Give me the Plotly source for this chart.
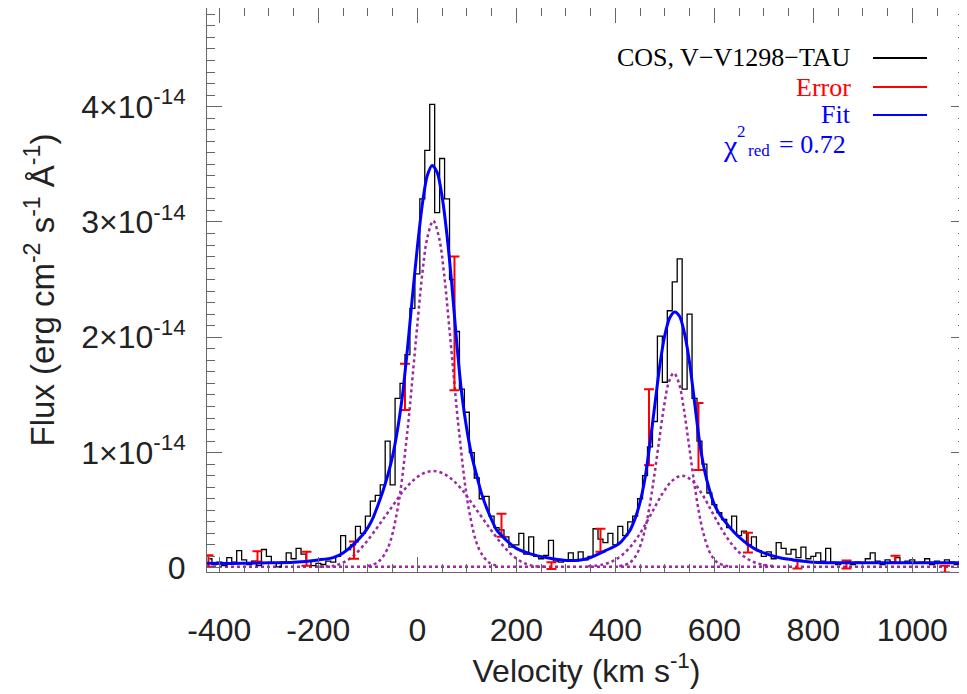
import plotly.graph_objects as go

# ---------------- data (flux in units of 1e-14 erg cm^-2 s^-1 A^-1) ----------------
SPEC_V = [-420, -410, -400, -390, -380, -370, -360, -350, -340, -330, -320, -310, -300, -290, -280,
          -270, -260, -250, -240, -230, -220, -210, -200, -190, -180, -170, -160, -150, -140, -130,
          -120, -110, -100, -90, -80, -70, -60, -50, -40, -30, -20, -10, 0, 10, 20, 30, 40, 50, 60,
          70, 80, 90, 100, 110, 120, 130, 140, 150, 160, 170, 180, 190, 200, 210, 220, 230, 240, 250,
          260, 270, 280, 290, 300, 310, 320, 330, 340, 350, 360, 370, 380, 390, 400, 410, 420, 430,
          440, 450, 460, 470, 480, 490, 500, 510, 520, 530, 540, 550, 560, 570, 580, 590, 600, 610,
          620, 630, 640, 650, 660, 670, 680, 690, 700, 710, 720, 730, 740, 750, 760, 770, 780, 790,
          800, 810, 820, 830, 840, 850, 860, 870, 880, 890, 900, 910, 920, 930, 940, 950, 960, 970,
          980, 990, 1000, 1010, 1020, 1030, 1040, 1050, 1060, 1070, 1080, 1090, 1100, 1110]
SPEC_F = [0.08, 0.03, 0.05, 0.02, 0.09, 0.05, 0.15, 0.07, 0.03, 0.06, 0.02, 0.16, 0.10, 0.04, 0.01,
          0.05, 0.13, 0.08, 0.17, 0.12, 0.06, 0.02, 0.04, 0.03, 0.06, 0.05, 0.10, 0.28, 0.16, 0.20,
          0.36, 0.30, 0.45, 0.58, 0.63, 0.72, 1.10, 0.72, 1.47, 1.60, 1.85, 2.25, 2.55, 3.20, 3.62,
          4.02, 3.08, 3.55, 3.20, 2.50, 2.05, 1.55, 1.35, 1.00, 0.78, 0.60, 0.62, 0.45, 0.35, 0.33,
          0.27, 0.18, 0.20, 0.30, 0.12, 0.27, 0.10, 0.08, 0.11, 0.24, 0.06, 0.05, 0.07, 0.13, 0.06,
          0.14, 0.07, 0.10, 0.34, 0.25, 0.22, 0.30, 0.20, 0.36, 0.28, 0.40, 0.45, 0.60, 0.80, 1.05,
          1.27, 2.01, 1.61, 2.23, 2.48, 2.68, 1.55, 2.20, 1.47, 1.10, 0.90, 0.65, 0.55, 0.48, 0.42,
          0.35, 0.45, 0.28, 0.32, 0.20, 0.27, 0.15, 0.10, 0.14, 0.08, 0.22, 0.17, 0.12, 0.16, 0.09,
          0.18, 0.08, 0.10, 0.13, 0.06, 0.17, 0.05, 0.03, 0.04, 0.06, 0.03, 0.05, 0.04, 0.08, 0.13,
          0.06, 0.03, 0.07, 0.05, 0.09, 0.04, 0.06, 0.07, 0.04, 0.05, 0.08, 0.03, 0.06, 0.04, 0.07,
          0.05, 0.03, 0.06, 0.04]

FIT_V = [-425, -350, -300, -250, -200, -170, -150, -130, -110, -100, -90, -80, -70, -60, -50,
         -40, -30, -20, -10, 0, 10, 20, 30, 40, 50, 60, 70, 80, 90, 100, 110, 120, 130, 140, 150,
         160, 180, 200, 230, 260, 300, 330, 350, 380, 400, 410, 420, 430, 440, 450, 460, 470, 480,
         490, 500, 510, 520, 530, 540, 550, 560, 570, 580, 590, 600, 610, 620, 640, 660, 680, 700,
         730, 760, 800, 900, 1000, 1110]
FIT_F = [0.04, 0.04, 0.045, 0.05, 0.07, 0.09, 0.13, 0.2, 0.29, 0.35, 0.43, 0.54, 0.66, 0.8, 0.97,
         1.2, 1.5, 1.9, 2.35, 2.78, 3.15, 3.4, 3.49, 3.43, 3.22, 2.88, 2.44, 1.93, 1.5, 1.2, 0.97,
         0.8, 0.64, 0.52, 0.42, 0.33, 0.24, 0.17, 0.12, 0.09, 0.065, 0.07, 0.09, 0.15, 0.19, 0.22,
         0.27, 0.33, 0.43, 0.57, 0.78, 1.08, 1.42, 1.76, 2.02, 2.17, 2.22, 2.18, 2.03, 1.78, 1.44,
         1.1, 0.85, 0.68, 0.55, 0.47, 0.41, 0.31, 0.23, 0.17, 0.13, 0.09, 0.07, 0.05, 0.045, 0.045,
         0.045]

NARROW1_V = [-100, -80, -60, -40, -20, -10, 0, 10, 20, 32, 44, 54, 64, 74, 84, 104, 124, 144, 164]
NARROW1_F = [0.017, 0.05, 0.17, 0.51, 1.19, 1.64, 2.11, 2.55, 2.86, 3.01, 2.86, 2.55, 2.11, 1.64,
             1.19, 0.51, 0.17, 0.05, 0.017]
BROAD1_V = [-198, -168, -148, -128, -108, -88, -68, -48, -28, -8, 12, 32, 52, 72, 92, 112, 132,
            152, 172, 192, 212, 232, 262]
BROAD1_F = [0.01, 0.02, 0.05, 0.11, 0.2, 0.31, 0.43, 0.55, 0.67, 0.76, 0.82, 0.84, 0.82, 0.76,
            0.67, 0.55, 0.43, 0.31, 0.2, 0.11, 0.05, 0.02, 0.01]
NARROW2_V = [408, 428, 443, 458, 468, 478, 488, 498, 508, 518, 528, 538, 548, 558, 568, 578, 593,
             608, 628]
NARROW2_F = [0.015, 0.042, 0.117, 0.3, 0.505, 0.78, 1.09, 1.39, 1.61, 1.69, 1.61, 1.39, 1.09,
             0.78, 0.505, 0.3, 0.117, 0.042, 0.015]
BROAD2_V = [345, 375, 395, 415, 435, 455, 475, 495, 515, 535, 555, 575, 595, 615, 635, 655, 675,
            695, 725]
BROAD2_F = [0.015, 0.03, 0.06, 0.117, 0.207, 0.335, 0.489, 0.643, 0.757, 0.8, 0.757, 0.643, 0.489,
            0.335, 0.207, 0.117, 0.06, 0.03, 0.015]
CONT_V = [-425, 1110]
CONT_F = [0.01, 0.01]

ERR_V = [-422, -323, -224, -128, -25, 75, 170, 271, 370, 468, 568, 668, 768, 867, 966, 1066]
ERR_F = [0.06, 0.10, 0.08, 0.155, 1.57, 2.12, 0.37, 0.02, 0.24, 1.22, 1.14, 0.22, 0.03, 0.03,
         0.075, -0.01]
ERR_E = [0.05, 0.045, 0.06, 0.075, 0.2, 0.58, 0.1, 0.03, 0.1, 0.33, 0.29, 0.085, 0.035, 0.035,
         0.03, 0.03]

X_TICKS = [-400, -200, 0, 200, 400, 600, 800, 1000]
X_TICK_TEXT = ["-400", "-200", "0", "200", "400", "600", "800", "1000"]
Y_TICKS = [0, 1, 2, 3, 4]
Y_TICK_TEXT = ["0", "1×10<sup>-14</sup>", "2×10<sup>-14</sup>", "3×10<sup>-14</sup>",
               "4×10<sup>-14</sup>"]

LEGEND_LABELS = ["COS, V−V1298−TAU", "Error", "Fit"]
LEGEND_COLORS = ["black", "red", "blue"]
CHI2_VALUE = "0.72"

# ---------------- layout helpers ----------------
# the page body has an 8px margin, so the figure is drawn 8px in from the window corner
OFF = 8
W, H = 959, 686
ML, MR, MT, MB = 199, 1, 0, 122
PW, PH = W - ML - MR, H - MT - MB


def fx(px):
    """window pixel x -> paper fraction"""
    return (px - OFF - ML) / PW


def fy(py):
    """window pixel y -> paper fraction"""
    return (H - MB - (py - OFF)) / PH


SANS = "Liberation Sans, Arial, sans-serif"
SERIF = "Liberation Serif, Times New Roman, serif"
PURPLE = "rgb(155,40,165)"
AXC = "#666666"

fig = go.Figure()

for vv, ff in [(CONT_V, CONT_F), (BROAD1_V, BROAD1_F), (NARROW1_V, NARROW1_F),
               (BROAD2_V, BROAD2_F), (NARROW2_V, NARROW2_F)]:
    fig.add_trace(go.Scatter(x=vv, y=ff, mode="lines", line=dict(color=PURPLE, width=2.5, dash="dot",
                                                                   shape="spline"),
                             showlegend=False, hoverinfo="skip"))

fig.add_trace(go.Scatter(x=SPEC_V, y=SPEC_F, mode="lines",
                         line=dict(color="black", width=1.3, shape="hvh"), showlegend=False))

fig.add_trace(go.Scatter(x=ERR_V, y=ERR_F, mode="markers",
                         marker=dict(size=1, color="rgba(0,0,0,0)"),
                         error_y=dict(type="data", array=ERR_E, color="red", thickness=2, width=5),
                         showlegend=False))

fig.add_trace(go.Scatter(x=FIT_V, y=FIT_F, mode="lines",
                         line=dict(color="blue", width=3, shape="spline", smoothing=0.8),
                         showlegend=False))

# ---------------- legend (text + line samples, right aligned) ----------------
legend_y = [58, 87, 115]
annotations = []
shapes = []
for lab, col, yy in zip(LEGEND_LABELS, LEGEND_COLORS, legend_y):
    annotations.append(dict(text=lab, x=fx(853), y=fy(yy), xref="paper", yref="paper",
                            xanchor="right", yanchor="middle", showarrow=False,
                            font=dict(family=SERIF, size=26, color=col)))
    shapes.append(dict(type="line", xref="paper", yref="paper", x0=fx(873), x1=fx(927),
                       y0=fy(yy), y1=fy(yy), line=dict(color=col, width=2)))

annotations += [
    dict(text="= " + CHI2_VALUE, x=fx(848), y=fy(144), xref="paper", yref="paper",
         xanchor="right", yanchor="middle", showarrow=False,
         font=dict(family=SERIF, size=26, color="blue")),
    dict(text="χ", x=fx(740), y=fy(146), xref="paper", yref="paper",
         xanchor="right", yanchor="middle", showarrow=False,
         font=dict(family=SERIF, size=30, color="blue")),
    dict(text="2", x=fx(735), y=fy(132), xref="paper", yref="paper",
         xanchor="left", yanchor="middle", showarrow=False,
         font=dict(family=SERIF, size=17, color="blue")),
    dict(text="red", x=fx(746), y=fy(151), xref="paper", yref="paper",
         xanchor="left", yanchor="middle", showarrow=False,
         font=dict(family=SERIF, size=17, color="blue")),
]

fig.update_layout(
    width=W, height=H,
    margin=dict(l=ML, r=MR, t=MT, b=MB, autoexpand=False),
    paper_bgcolor="white", plot_bgcolor="white",
    showlegend=False,
    annotations=annotations, shapes=shapes,
    xaxis=dict(range=[-425, 1108.5], tickmode="array", tickvals=X_TICKS, ticktext=X_TICK_TEXT,
               ticks="inside", ticklen=15, tickwidth=1, tickcolor=AXC,
               showline=True, linecolor=AXC, linewidth=1, mirror="ticks",
               showgrid=False, zeroline=False,
               minor=dict(tickmode="linear", tick0=0, dtick=50, ticks="inside", ticklen=8,
                          tickcolor=AXC, showgrid=False),
               tickfont=dict(family=SANS, size=32, color="#222"),
               ticklabelstandoff=30,
               title=dict(text="Velocity (km s<sup>-1</sup>)",
                          font=dict(family=SANS, size=32, color="#222"), standoff=0)),
    yaxis=dict(range=[-0.035, 4.855], tickmode="array", tickvals=Y_TICKS, ticktext=Y_TICK_TEXT,
               ticks="inside", ticklen=15, tickwidth=1, tickcolor=AXC,
               showline=True, linecolor=AXC, linewidth=1, mirror="ticks",
               showgrid=False, zeroline=False,
               minor=dict(tickmode="linear", tick0=0, dtick=0.1, ticks="inside", ticklen=8,
                          tickcolor=AXC, showgrid=False),
               tickfont=dict(family=SANS, size=32, color="#222"),
               ticklabelstandoff=14,
               title=dict(text="Flux (erg cm<sup>-2</sup> s<sup>-1</sup> Å<sup>-1</sup>)",
                          font=dict(family=SANS, size=33, color="#222"), standoff=16)),
)

fig.write_html("out.html")
